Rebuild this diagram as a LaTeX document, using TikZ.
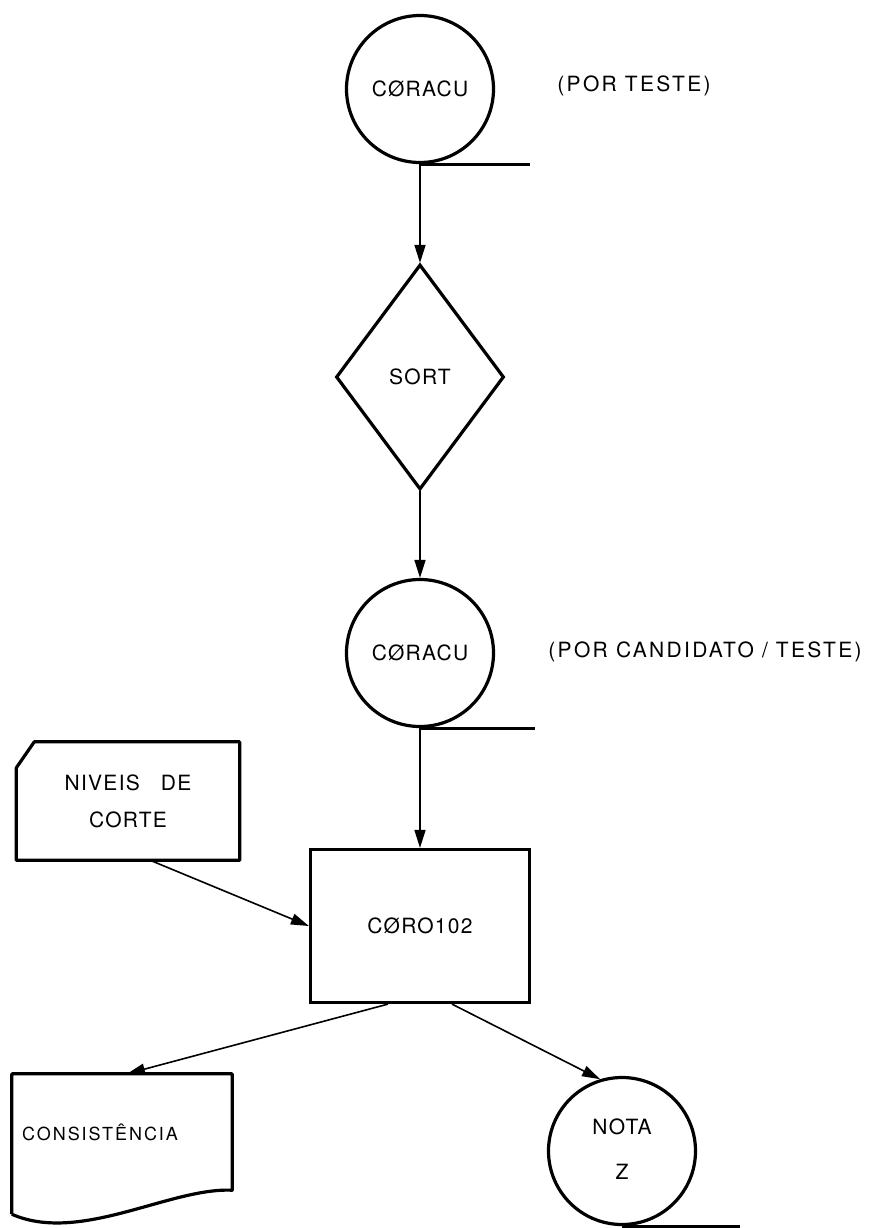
\documentclass[tikz,border=0pt]{standalone}
\usepackage{fontspec}
\newfontfamily\lettering{TeX Gyre Heros}[LetterSpace=6]
\newfontfamily\spacedlettering{TeX Gyre Heros}[LetterSpace=11]
\usetikzlibrary{arrows.meta,shapes.geometric}

\begin{document}
\begin{tikzpicture}[
			x=1pt,y=-1pt,
			every node/.style={
				font=\lettering\fontsize{21}{25}\selectfont
			},
			filecircle/.style={
				draw,
				circle,
				line width=3.2pt,
				minimum size=147pt,
				inner sep=0pt,
				align=center
			},
			sortdiamond/.style={
				draw,
				diamond,
				line width=3.2pt,
				minimum width=168pt,
				minimum height=225pt,
				inner sep=0pt
			},
			procbox/.style={
				draw,
				rectangle,
				line width=3.2pt,
				minimum width=219pt,
				minimum height=153pt
			},
			cardbox/.style={
				rectangle,
				minimum width=223pt,
				minimum height=118pt,
				align=center
			},
			docbox/.style={
				rectangle,
				minimum width=220pt,
				minimum height=116pt,
				text width=200pt,
				align=left,
				font=\spacedlettering\fontsize{18}{22}\selectfont
			},
			remark/.style={
				font=\spacedlettering\fontsize{21}{25}\selectfont
			},
			shapeline/.style={
				line width=3.2pt,
				line join=round
			},
			flowarrow/.style={
				-{Triangle[length=18pt,width=11pt]},
				line width=1.6pt
			}
			]
			
			\useasboundingbox (0,0) rectangle (878,1228);
			
			% Main column
			\node[filecircle] (coracuA) at (420,89) {CØRACU};
			\node[remark] (porteste) at (634,86) {(POR TESTE)};
			
			\node[sortdiamond] (sort) at (420,377) {SORT};
			
			\node[filecircle] (coracuB) at (420,653) {CØRACU};
			\node[remark] (porcand) at (705,652) {(POR CANDIDATO / TESTE)};
			
			\node[procbox] (coro) at (420,926) {CØRO102\hspace{14pt}};
			
			% Side inputs and outputs
			\node[cardbox] (niveis) at (128,801) {NIVEIS\quad DE\\[12pt]CORTE};
			
			\node[docbox] (consist) at (122,1132) {CONSISTÊNCIA};
			
			\node[filecircle] (nota) at (622,1151) {\\[-14pt]NOTA\\[20pt]Z};
			
			% Outlines
			\draw[shapeline]
			(niveis.south west) --
			([yshift=-26pt]niveis.north west) --
			([xshift=18pt]niveis.north west) --
			(niveis.north east) --
			(niveis.south east) -- cycle;
			
			\draw[shapeline]
			([yshift=-24pt]consist.south west) --
			(consist.north west) --
			(consist.north east) --
			(consist.south east)
			.. controls +(-62,-3) and +(68,30) ..
			([yshift=-24pt]consist.south west);
			
			% Tape tails
			\draw[shapeline] (coracuA.south) -- ++(110,0);
			\draw[shapeline] (coracuB.south) -- ++(115,0);
			\draw[shapeline] (nota.south) -- ++(118,0);
			
			% Flow
			\draw[flowarrow]
			(coracuA.south) --
			(sort.north);
			
			\draw[flowarrow]
			(sort.south) --
			(coracuB.north);
			
			\draw[flowarrow]
			(coracuB.south) --
			(coro.north);
			
			\draw[flowarrow]
			([xshift=22pt]niveis.south) --
			(coro.west);
			
			\draw[flowarrow]
			([xshift=-32pt]coro.south) --
			([xshift=5pt]consist.north);
			
			\draw[flowarrow]
			([xshift=32pt]coro.south) --
			(nota.107);
			
		\end{tikzpicture}
\end{document}
